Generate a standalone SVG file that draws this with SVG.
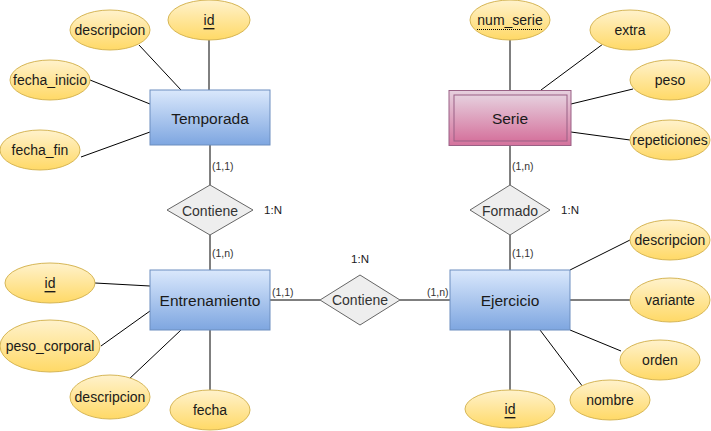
<svg xmlns="http://www.w3.org/2000/svg" width="711" height="431" viewBox="0 0 711 431">
<defs>
<linearGradient id="gY" x1="0" y1="0" x2="0" y2="1"><stop offset="0" stop-color="#fff2cc"/><stop offset="1" stop-color="#ffd966"/></linearGradient>
<linearGradient id="gB" x1="0" y1="0" x2="0" y2="1"><stop offset="0" stop-color="#dae8fc"/><stop offset="1" stop-color="#7ea6e0"/></linearGradient>
<linearGradient id="gP" x1="0" y1="0" x2="0" y2="1"><stop offset="0" stop-color="#e6d0de"/><stop offset="1" stop-color="#d5739d"/></linearGradient>
<style>
text{font-family:"Liberation Sans",Arial,Helvetica,sans-serif;text-anchor:middle;dominant-baseline:central;fill:#1a1a1a}
.attr ellipse{fill:url(#gY);stroke:#d6b656;stroke-width:1}
.attr text{font-size:14px}
.ent rect{fill:url(#gB);stroke:#6c8ebf;stroke-width:1}
.ent text{font-size:15.5px}
.weak rect{fill:url(#gP);stroke:#996185;stroke-width:1}
.rel polygon{fill:#eeeeee;stroke:#666666;stroke-width:1}
.rel text{font-size:14px;fill:#333333}
.conn line{stroke:#000;stroke-width:1;fill:none}
.card{font-size:10.5px;text-anchor:start;fill:#333333}
.ratio{font-size:11.5px;fill:#1a1a1a}
</style>
</defs>
<rect x="0" y="0" width="711" height="431" fill="#ffffff"/>
<g id="connectors" class="conn">
<line x1="139" y1="45" x2="181" y2="90"/>
<line x1="209" y1="40" x2="209" y2="90"/>
<line x1="90" y1="80" x2="150" y2="104"/>
<line x1="81" y1="157" x2="150" y2="132"/>
<line x1="210" y1="145" x2="210" y2="185"/>
<line x1="210" y1="235" x2="210" y2="270"/>
<line x1="95" y1="283" x2="150" y2="286"/>
<line x1="101" y1="346" x2="150" y2="311"/>
<line x1="127" y1="381" x2="181" y2="330"/>
<line x1="210" y1="330" x2="210" y2="390"/>
<line x1="270" y1="300" x2="320" y2="300"/>
<line x1="400" y1="300" x2="450" y2="300"/>
<line x1="510" y1="40" x2="510" y2="90"/>
<line x1="603" y1="44" x2="541" y2="90"/>
<line x1="571" y1="104" x2="633" y2="89"/>
<line x1="571" y1="132" x2="630" y2="140"/>
<line x1="510" y1="145" x2="510" y2="185"/>
<line x1="510" y1="235" x2="510" y2="270"/>
<line x1="570" y1="270" x2="630" y2="240"/>
<line x1="570" y1="300" x2="630" y2="300"/>
<line x1="570" y1="330" x2="621" y2="351"/>
<line x1="540" y1="330" x2="583" y2="387"/>
<line x1="510" y1="330" x2="510" y2="390"/>
</g>
<g id="cardinalities">
<text class="card" x="212" y="166">(1,1)</text>
<text class="card" x="212" y="253">(1,n)</text>
<text class="card" x="272" y="292">(1,1)</text>
<text class="card" x="427" y="292">(1,n)</text>
<text class="card" x="512" y="166">(1,n)</text>
<text class="card" x="512" y="253">(1,1)</text>
<text class="ratio" x="273" y="210">1:N</text>
<text class="ratio" x="360" y="259">1:N</text>
<text class="ratio" x="570" y="210">1:N</text>
</g>
<g id="temporada" class="ent"><rect x="150" y="90" width="120" height="55"/><text x="210" y="118">Temporada</text></g>
<g id="entrenamiento" class="ent"><rect x="150" y="270" width="120" height="60"/><text x="210" y="300">Entrenamiento</text></g>
<g id="ejercicio" class="ent"><rect x="450" y="270" width="120" height="60"/><text x="510" y="300">Ejercicio</text></g>
<g id="serie" class="ent weak"><rect x="449" y="90.5" width="122" height="55"/><rect x="454" y="95" width="113" height="46"/><text x="510" y="118">Serie</text></g>
<g id="contiene1" class="rel"><polygon points="210,185 253,210 210,235 167,210"/><text x="210" y="211">Contiene</text></g>
<g id="contiene2" class="rel"><polygon points="360,275 400,300 360,325 320,300"/><text x="360" y="300">Contiene</text></g>
<g id="formado" class="rel"><polygon points="510,185 550,210 510,235 470,210"/><text x="510" y="211">Formado</text></g>
<g id="t_id" class="attr"><ellipse cx="209" cy="20" rx="41" ry="20"/><text x="209" y="20" text-decoration="underline">id</text></g>
<g id="t_descripcion" class="attr"><ellipse cx="110" cy="30" rx="40" ry="20"/><text x="110" y="30">descripcion</text></g>
<g id="t_fecha_inicio" class="attr"><ellipse cx="50" cy="80" rx="40" ry="20"/><text x="50" y="80">fecha_inicio</text></g>
<g id="t_fecha_fin" class="attr"><ellipse cx="40" cy="150" rx="40" ry="20"/><text x="40" y="150">fecha_fin</text></g>
<g id="e_id" class="attr"><ellipse cx="50" cy="283" rx="45" ry="20"/><text x="50" y="283" text-decoration="underline">id</text></g>
<g id="e_peso_corporal" class="attr"><ellipse cx="50" cy="346" rx="50" ry="26"/><text x="50" y="346">peso_corporal</text></g>
<g id="e_descripcion" class="attr"><ellipse cx="110" cy="397" rx="40" ry="22"/><text x="110" y="397">descripcion</text></g>
<g id="e_fecha" class="attr"><ellipse cx="210" cy="410" rx="40" ry="20"/><text x="210" y="410">fecha</text></g>
<g id="s_num_serie" class="attr"><ellipse cx="510" cy="20" rx="40" ry="20"/><text x="510" y="20">num_serie</text><line x1="477" y1="29.5" x2="543" y2="29.5" stroke="#000" stroke-width="1" stroke-dasharray="1,1"/></g>
<g id="s_extra" class="attr"><ellipse cx="630" cy="30" rx="40" ry="20"/><text x="630" y="30">extra</text></g>
<g id="s_peso" class="attr"><ellipse cx="670" cy="80" rx="40" ry="20"/><text x="670" y="80">peso</text></g>
<g id="s_repeticiones" class="attr"><ellipse cx="670" cy="140" rx="40" ry="20"/><text x="670" y="140">repeticiones</text></g>
<g id="j_descripcion" class="attr"><ellipse cx="670" cy="240" rx="40" ry="20"/><text x="670" y="240">descripcion</text></g>
<g id="j_variante" class="attr"><ellipse cx="670" cy="300" rx="40" ry="22"/><text x="670" y="300">variante</text></g>
<g id="j_orden" class="attr"><ellipse cx="660" cy="360" rx="40" ry="20"/><text x="660" y="360">orden</text></g>
<g id="j_nombre" class="attr"><ellipse cx="610" cy="400" rx="40" ry="20"/><text x="610" y="400">nombre</text></g>
<g id="j_id" class="attr"><ellipse cx="510" cy="409" rx="45" ry="19"/><text x="510" y="409" text-decoration="underline">id</text></g>
</svg>
